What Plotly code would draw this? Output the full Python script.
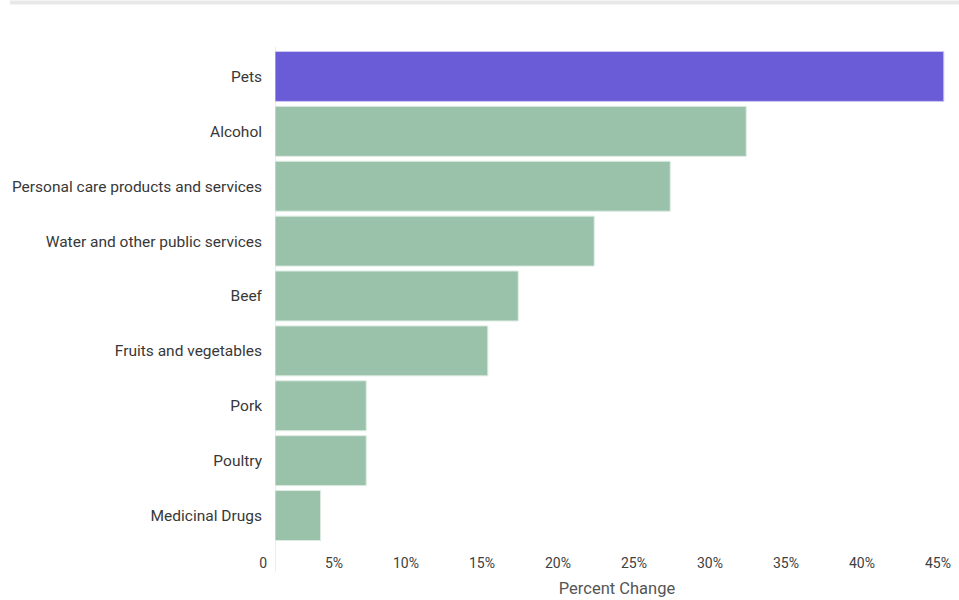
import plotly.graph_objects as go

categories = ["Pets", "Alcohol", "Personal care products and services",
              "Water and other public services", "Beef", "Fruits and vegetables",
              "Pork", "Poultry", "Medicinal Drugs"]
values = [44, 31, 26, 21, 16, 14, 6, 6, 3]
highlight = "Pets"
tick_vals = [0, 5, 10, 15, 20, 25, 30, 35, 40, 45]
tick_text = ["0", "5%", "10%", "15%", "20%", "25%", "30%", "35%", "40%", "45%"]

PURPLE = "#6a5bd6"
GREEN = "#9ac1aa"
colors = [PURPLE if c == highlight else GREEN for c in categories]
line_colors = ["#cfc9f3" if c == highlight else "#dcece2" for c in categories]

fig = go.Figure(go.Bar(
    x=values, y=categories, orientation="h",
    marker=dict(color=colors, line=dict(color=line_colors, width=1)),
    hoverinfo="x+y",
))

W, H = 959, 600
L, R, T, B = 275, 0, 48.5, 56.5
pw, ph = W - L - R, H - T - B

def px_x(px):
    return (px - L) / pw

def px_y(py):
    return (H - B - py) / ph

fig.update_layout(
    width=W, height=H,
    margin=dict(l=L, r=R, t=T, b=B, pad=0),
    paper_bgcolor="white", plot_bgcolor="white",
    bargap=0.09,
    showlegend=False,
    font=dict(family="Roboto, sans-serif", size=15, color="#333"),
    xaxis=dict(
        range=[0, 45], tickvals=tick_vals, ticktext=tick_text,
        showgrid=False, zeroline=False, showline=False,
        ticks="", ticklabelposition="outside left", ticklabelshift=-8,
        ticklabelstandoff=10,
        tickfont=dict(size=14, color="#404040"),
        title=dict(text="Percent Change", font=dict(size=16.5, color="#555"), standoff=12),
        automargin=False, fixedrange=True,
    ),
    yaxis=dict(
        autorange="reversed", showgrid=False, zeroline=False, showline=False,
        ticks="", ticklabelstandoff=12,
        tickfont=dict(size=15.5, color="#383838"),
        automargin=False, fixedrange=True,
    ),
    shapes=[
        dict(type="line", xref="x", yref="paper", x0=0, x1=0,
             y0=px_y(572), y1=px_y(46), line=dict(color="#d9d9d9", width=1), layer="below"),
        dict(type="rect", xref="paper", yref="paper", x0=px_x(10), x1=px_x(959),
             y0=px_y(4), y1=px_y(0), fillcolor="#e8e8e8", line=dict(width=0)),
    ],
)

fig.write_html(
    "out.html",
    config={"displayModeBar": False},
    post_script="document.body.style.margin='0';document.body.style.overflow='hidden';",
)
